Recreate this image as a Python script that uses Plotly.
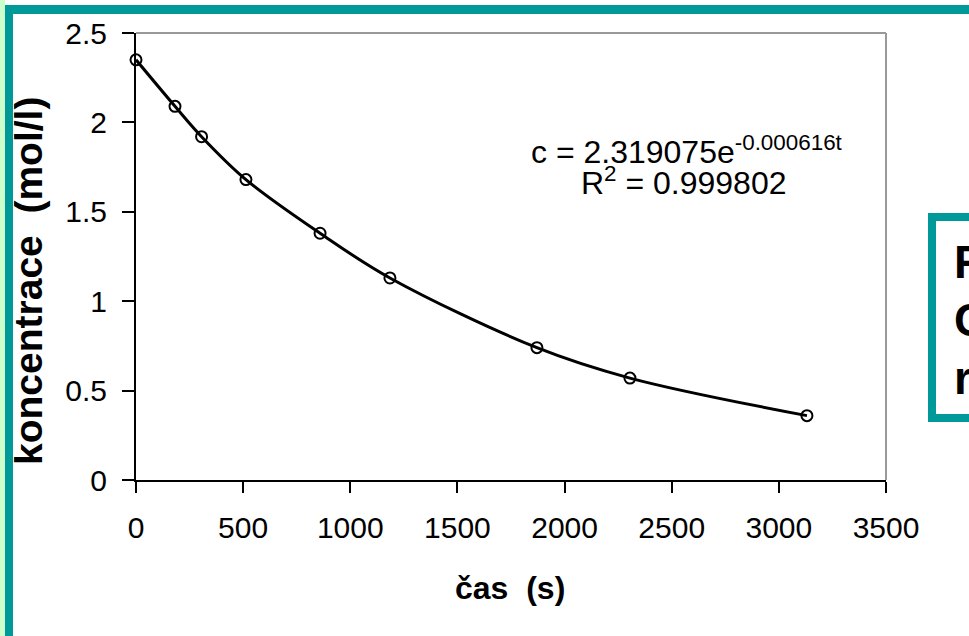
import plotly.graph_objects as go

# ---- data ----
time_s = [0, 182, 306, 513, 859, 1185, 1871, 2305, 3131]
conc = [2.35, 2.09, 1.92, 1.68, 1.38, 1.13, 0.74, 0.57, 0.36]
x_ticks = [0, 500, 1000, 1500, 2000, 2500, 3000, 3500]
y_ticks = [0, 0.5, 1, 1.5, 2, 2.5]
y_tick_text = ["0", "0.5", "1", "1.5", "2", "2.5"]
x_title = "čas  (s)"
y_title = "koncentrace  (mol/l)"
eq_line1 = "c = 2.319075e<sup>-0.000616t</sup>"
eq_line2 = "R<sup>2</sup> = 0.999802"
side_letters = ["R", "C", "r"]

# ---- layout geometry (pixels) ----
W, H = 969, 636
L, R, T, B = 136, 886, 33, 480
PW, PH = R - L, B - T


def px(x):
    return (x - L) / PW


def py(y):
    return (B - y) / PH


FONT = "Arial, Liberation Sans, sans-serif"
TEAL = "#009999"
LGREEN = "#CCFFCC"

fig = go.Figure()
fig.add_trace(go.Scatter(
    x=time_s, y=conc, mode="lines+markers",
    line=dict(color="black", width=3, shape="spline", smoothing=1.0),
    marker=dict(symbol="circle-open", size=11, color="black",
                line=dict(color="black", width=2)),
    showlegend=False, cliponaxis=False,
))

shapes = [
    # light green outer strips
    dict(type="rect", xref="paper", yref="paper", x0=px(-5), x1=px(W + 5), y0=py(0), y1=py(-5),
         fillcolor=LGREEN, line=dict(width=0)),
    dict(type="rect", xref="paper", yref="paper", x0=px(-5), x1=px(5), y0=py(H + 5), y1=py(-5),
         fillcolor=LGREEN, line=dict(width=0)),
    # teal border bands
    dict(type="rect", xref="paper", yref="paper", x0=px(5), x1=px(W + 5), y0=py(14), y1=py(5),
         fillcolor=TEAL, line=dict(width=0)),
    dict(type="rect", xref="paper", yref="paper", x0=px(5), x1=px(13), y0=py(H + 5), y1=py(5),
         fillcolor=TEAL, line=dict(width=0)),
    # grey plot frame (top and right)
    dict(type="line", xref="paper", yref="paper", x0=0, x1=1, y0=1, y1=1,
         line=dict(color="#999999", width=2)),
    dict(type="line", xref="paper", yref="paper", x0=1, x1=1, y0=0, y1=1,
         line=dict(color="#999999", width=2)),
    # side text box
    dict(type="rect", xref="paper", yref="paper", x0=px(932), x1=px(1020), y0=py(418), y1=py(217),
         fillcolor="white", line=dict(color=TEAL, width=8)),
]

annotations = [
    dict(text="<b>%s</b>" % x_title, x=px(510), y=py(588), xref="paper", yref="paper",
         showarrow=False, xanchor="center", yanchor="middle",
         font=dict(family=FONT, size=32, color="black")),
    dict(text="<b>%s</b>" % y_title, x=px(28), y=py(281), xref="paper", yref="paper",
         showarrow=False, xanchor="center", yanchor="middle", textangle=-90,
         font=dict(family=FONT, size=39, color="black")),
    dict(text=eq_line1, x=px(687), y=py(150), xref="paper", yref="paper",
         showarrow=False, xanchor="center", yanchor="middle",
         font=dict(family=FONT, size=32, color="black")),
    dict(text=eq_line2, x=px(684), y=py(181), xref="paper", yref="paper",
         showarrow=False, xanchor="center", yanchor="middle",
         font=dict(family=FONT, size=32, color="black")),
]
for i, letter in enumerate(side_letters):
    annotations.append(dict(
        text="<b>%s</b>" % letter, x=px(952), y=py(262 + 58 * i), xref="paper", yref="paper",
        showarrow=False, xanchor="left", yanchor="middle",
        font=dict(family=FONT, size=46, color="black")))

fig.update_layout(
    width=W, height=H,
    margin=dict(l=L, r=W - R, t=T, b=H - B, pad=0),
    paper_bgcolor="white", plot_bgcolor="white",
    shapes=shapes, annotations=annotations,
    xaxis=dict(range=[0, 3500], tickvals=x_ticks, ticks="outside", ticklen=11, tickwidth=2,
               tickcolor="black", showline=True, linecolor="black", linewidth=2,
               showgrid=False, zeroline=False, ticklabelstandoff=9,
               tickfont=dict(family=FONT, size=30, color="black")),
    yaxis=dict(range=[0, 2.5], tickvals=y_ticks, ticktext=y_tick_text, ticks="outside",
               ticklen=12, tickwidth=2, tickcolor="black", showline=True, linecolor="black",
               linewidth=2, showgrid=False, zeroline=False, ticklabelstandoff=9,
               tickfont=dict(family=FONT, size=30, color="black")),
)

fig.write_html("out.html", config={"displayModeBar": False},
               post_script="document.body.style.margin='0px';document.body.style.overflow='hidden';")
